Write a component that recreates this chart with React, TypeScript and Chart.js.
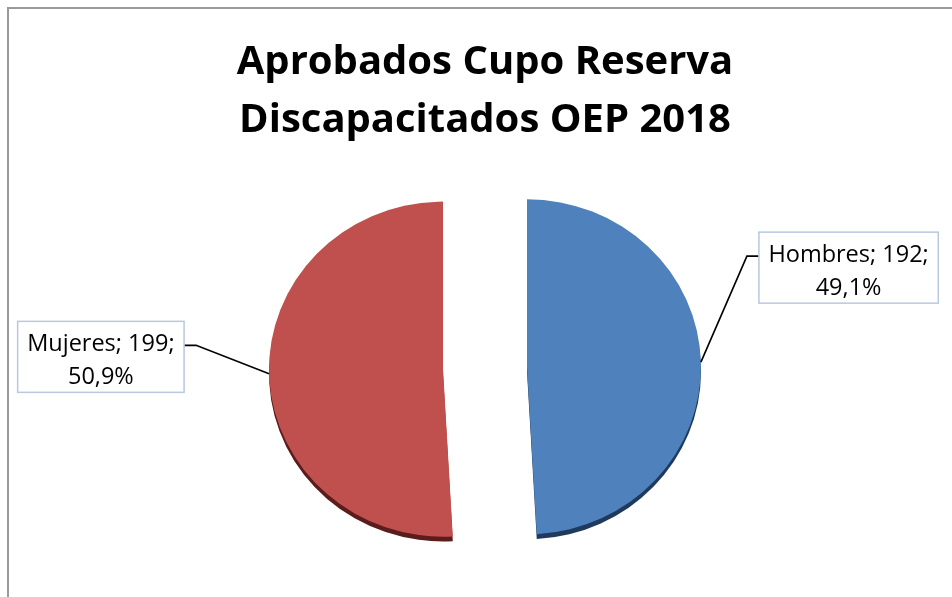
import React, { useEffect, useRef } from "react";
import { Chart, registerables } from "chart.js";

Chart.register(...registerables);

// ---- data ----
const titleLines = ["Aprobados Cupo Reserva", "Discapacitados OEP 2018"];
const categories = ["Hombres", "Mujeres"];
const counts = [192, 199];

// ---- styles ----
const sliceColors = ["#4F81BD", "#C0504D"];
const depthColors = ["#1F3A5C", "#5A1D1C"];
const FONT = "'Open Sans', 'DejaVu Sans', sans-serif";
const SQUASH = 0.963;
const DEPTH = 5;
const EXPLODE = 42;

const total = counts.reduce((a, b) => a + b, 0);
const pct = (v: number) => ((v / total) * 100).toFixed(1).replace(".", ",") + "%";

const pie3d = {
  id: "pie3d",
  beforeDraw(chart: any) {
    const ctx = chart.ctx;
    ctx.save();
    ctx.fillStyle = "#ffffff";
    ctx.fillRect(0, 0, chart.width, chart.height);
    ctx.strokeStyle = "#9a9a9a";
    ctx.lineWidth = 2;
    ctx.strokeRect(8, 8, chart.width + 40, chart.height + 40);
    ctx.restore();
  },
  beforeDatasetsDraw(chart: any) {
    const ctx = chart.ctx;
    const meta = chart.getDatasetMeta(0);
    const ca = chart.chartArea;
    const cx = (ca.left + ca.right) / 2;
    const cy = (ca.top + ca.bottom) / 2;
    ctx.save();
    ctx.translate(cx, cy);
    ctx.scale(1, SQUASH);
    ctx.translate(-cx, -cy);
    // depth (side of the 3D pie)
    meta.data.forEach((arc: any, i: number) => {
      const { x, y, startAngle, endAngle, outerRadius } = arc.getProps(
        ["x", "y", "startAngle", "endAngle", "outerRadius"],
        true
      );
      const m = (startAngle + endAngle) / 2;
      const ex = x + Math.cos(m) * EXPLODE;
      const ey = y + Math.sin(m) * EXPLODE;
      ctx.beginPath();
      ctx.moveTo(ex, ey + DEPTH);
      ctx.arc(ex, ey + DEPTH, outerRadius, startAngle, endAngle);
      ctx.closePath();
      ctx.fillStyle = depthColors[i];
      ctx.fill();
    });
    // faces
    meta.data.forEach((arc: any) => {
      const { startAngle, endAngle } = arc.getProps(["startAngle", "endAngle"], true);
      const m = (startAngle + endAngle) / 2;
      ctx.save();
      ctx.translate(Math.cos(m) * EXPLODE, Math.sin(m) * EXPLODE);
      arc.draw(ctx);
      ctx.restore();
    });
    ctx.restore();
    return false;
  },
  afterDraw(chart: any) {
    const ctx = chart.ctx;
    const meta = chart.getDatasetMeta(0);
    const ca = chart.chartArea;
    const cy = (ca.top + ca.bottom) / 2;
    ctx.save();
    ctx.font = `23.5px ${FONT}`;
    meta.data.forEach((arc: any, i: number) => {
      const { x, y, startAngle, endAngle, outerRadius } = arc.getProps(
        ["x", "y", "startAngle", "endAngle", "outerRadius"],
        true
      );
      const m = (startAngle + endAngle) / 2;
      const ax = x + Math.cos(m) * (EXPLODE + outerRadius);
      const ayRaw = y + Math.sin(m) * (EXPLODE + outerRadius);
      const ay = cy + (ayRaw - cy) * SQUASH;
      const lines = [`${categories[i]}; ${counts[i]};`, pct(counts[i])];
      const tw = Math.max(...lines.map((l) => ctx.measureText(l).width));
      const bw = tw + 19;
      const bh = 71;
      const right = Math.cos(m) > 0;
      let bx: number, by: number;
      if (right) {
        bx = ax + 58;
        by = ay - 94.5 - bh / 2;
      } else {
        bx = ax - 85 - bw;
        by = ay - 17 - bh / 2;
      }
      // leader line
      const ly = by + 24;
      const elbowX = right ? bx - 12 : bx + bw + 12;
      ctx.beginPath();
      ctx.moveTo(ax, ay);
      ctx.lineTo(elbowX, ly);
      ctx.lineTo(right ? bx : bx + bw, ly);
      ctx.strokeStyle = "#000000";
      ctx.lineWidth = 1.6;
      ctx.stroke();
      // box
      ctx.fillStyle = "#ffffff";
      ctx.fillRect(bx, by, bw, bh);
      ctx.strokeStyle = "#B7C8DF";
      ctx.lineWidth = 1.5;
      ctx.strokeRect(bx, by, bw, bh);
      // text
      ctx.fillStyle = "#000000";
      ctx.textAlign = "center";
      ctx.textBaseline = "alphabetic";
      ctx.fillText(lines[0], bx + bw / 2, by + 30);
      ctx.fillText(lines[1], bx + bw / 2, by + 63);
    });
    ctx.restore();
  },
};

export default function App() {
  const canvasRef = useRef<HTMLCanvasElement | null>(null);

  useEffect(() => {
    if (!canvasRef.current) return;
    const chart = new Chart(canvasRef.current, {
      type: "pie",
      data: {
        labels: categories,
        datasets: [
          {
            data: counts,
            backgroundColor: sliceColors,
            borderWidth: 0,
            radius: 174,
          } as any,
        ],
      },
      options: {
        animation: false,
        responsive: false,
        rotation: 0,
        layout: { padding: { left: 18, top: 8, right: 0, bottom: 11 } },
        plugins: {
          legend: { display: false },
          tooltip: { enabled: false },
          title: {
            display: true,
            text: titleLines,
            color: "#000000",
            font: { family: FONT, size: 40, weight: "bold", lineHeight: 1.45 },
            padding: { top: 26, bottom: 0 },
          },
        },
      },
      plugins: [pie3d],
    });
    return () => chart.destroy();
  }, []);

  return (
    <div style={{ position: "fixed", left: 0, top: 0, width: 952, height: 597, overflow: "hidden" }}>
      <canvas ref={canvasRef} width={952} height={597} style={{ display: "block" }} />
    </div>
  );
}
